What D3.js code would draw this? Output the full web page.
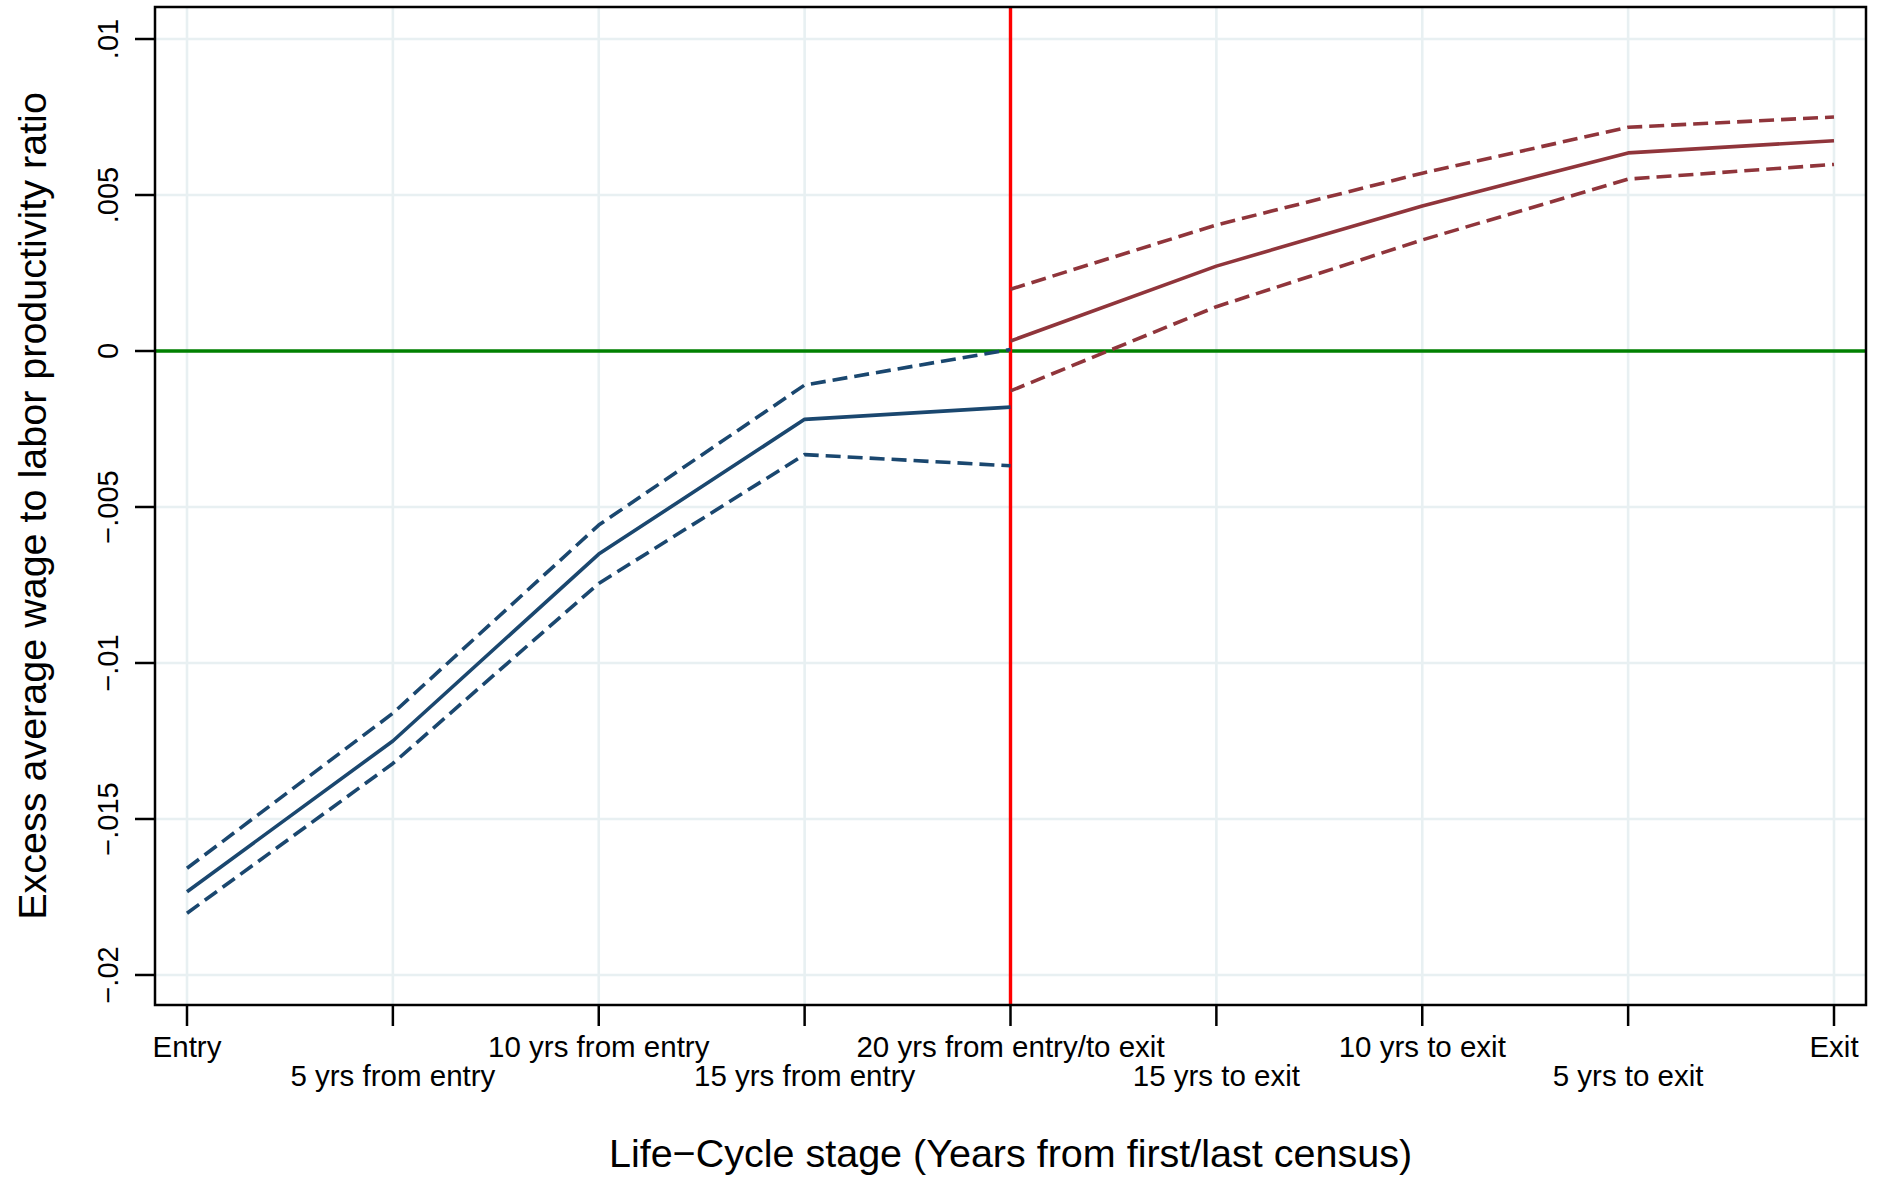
<!DOCTYPE html>
<html>
<head>
<meta charset="utf-8">
<script src="https://cdn.jsdelivr.net/npm/d3@7"></script>
<style>
    body { margin: 0; background: #fff; }
    svg { display: block; font-family: "Liberation Sans", Arial, Helvetica, sans-serif; }
</style>
</head>
<body>
<svg id="chart"></svg>
<script>
// life-cycle stages on the x axis
const stages = ["Entry", "5 yrs from entry", "10 yrs from entry", "15 yrs from entry",
    "20 yrs from entry/to exit", "15 yrs to exit", "10 yrs to exit", "5 yrs to exit", "Exit"];

// years since entry (stages 0-4)
const entryEst   = [-0.01733, -0.0125, -0.00651, -0.00219, -0.0018];
const entryUpper = [-0.01658, -0.01161, -0.00558, -0.00109, 0.00005];
const entryLower = [-0.01802, -0.01322, -0.00745, -0.00332, -0.00368];

// years to exit (stages 4-8)
const exitEst   = [0.00032, 0.00272, 0.00465, 0.00635, 0.00674];
const exitUpper = [0.00198, 0.00404, 0.0057, 0.00717, 0.0075];
const exitLower = [-0.00128, 0.00142, 0.00356, 0.00551, 0.00598];

const yTicks = [0.01, 0.005, 0, -0.005, -0.01, -0.015, -0.02];
const yTickLabels = [".01", ".005", "0", "\u2212.005", "\u2212.01", "\u2212.015", "\u2212.02"];

const width = 1881, height = 1177;
const frame = { left: 155, right: 1866, top: 7, bottom: 1005 };

const svg = d3.select("#chart").attr("width", width).attr("height", height);

const x = d3.scaleLinear().domain([0, 8]).range([187, 1834]);
const y = d3.scaleLinear().domain([-0.020962, 0.011026]).range([frame.bottom, frame.top]);

const navy = "#1a476f", maroon = "#90353b";

// grid
const grid = svg.append("g").attr("stroke", "#e8f0f2").attr("stroke-width", 2.6);
grid.selectAll(".hgrid").data(yTicks).enter().append("line")
    .attr("x1", frame.left).attr("x2", frame.right)
    .attr("y1", d => y(d)).attr("y2", d => y(d));
grid.selectAll(".vgrid").data(d3.range(stages.length)).enter().append("line")
    .attr("x1", d => x(d)).attr("x2", d => x(d))
    .attr("y1", frame.top).attr("y2", frame.bottom);

// reference lines
svg.append("line")
    .attr("x1", frame.left).attr("x2", frame.right)
    .attr("y1", y(0)).attr("y2", y(0))
    .attr("stroke", "#008000").attr("stroke-width", 3.6);
svg.append("line")
    .attr("x1", x(4)).attr("x2", x(4))
    .attr("y1", frame.top).attr("y2", frame.bottom)
    .attr("stroke", "#ff0000").attr("stroke-width", 3.4);

// series
function drawLine(values, offset, color, dashed) {
    const line = d3.line().x((d, i) => x(i + offset)).y(d => y(d));
    svg.append("path")
        .datum(values)
        .attr("d", line)
        .attr("fill", "none")
        .attr("stroke", color)
        .attr("stroke-width", 3.6)
        .attr("stroke-linejoin", "round")
        .attr("stroke-dasharray", dashed ? "15,7" : null);
}
drawLine(entryUpper, 0, navy, true);
drawLine(entryLower, 0, navy, true);
drawLine(entryEst, 0, navy, false);
drawLine(exitUpper, 4, maroon, true);
drawLine(exitLower, 4, maroon, true);
drawLine(exitEst, 4, maroon, false);

// frame
svg.append("rect")
    .attr("x", frame.left).attr("y", frame.top)
    .attr("width", frame.right - frame.left).attr("height", frame.bottom - frame.top)
    .attr("fill", "none").attr("stroke", "#000").attr("stroke-width", 2.5);

// x axis ticks and alternating labels
const xt = svg.append("g");
xt.selectAll("line").data(d3.range(stages.length)).enter().append("line")
    .attr("x1", d => x(d)).attr("x2", d => x(d))
    .attr("y1", frame.bottom).attr("y2", frame.bottom + 21)
    .attr("stroke", "#000").attr("stroke-width", 2.5);
xt.selectAll("text").data(stages).enter().append("text")
    .attr("x", (d, i) => x(i))
    .attr("y", (d, i) => i % 2 === 0 ? 1057 : 1086)
    .attr("text-anchor", "middle")
    .attr("font-size", 29.5)
    .text(d => d);

// y axis ticks and rotated labels
const yt = svg.append("g");
yt.selectAll("line").data(yTicks).enter().append("line")
    .attr("x1", frame.left - 20).attr("x2", frame.left)
    .attr("y1", d => y(d)).attr("y2", d => y(d))
    .attr("stroke", "#000").attr("stroke-width", 2.5);
yt.selectAll("text").data(yTicks).enter().append("text")
    .attr("transform", d => `translate(118, ${y(d)}) rotate(-90)`)
    .attr("text-anchor", "middle")
    .attr("font-size", 29)
    .text((d, i) => yTickLabels[i]);

// axis titles
svg.append("text")
    .attr("x", (frame.left + frame.right) / 2)
    .attr("y", 1167)
    .attr("text-anchor", "middle")
    .attr("font-size", 39.5)
    .text("Life\u2212Cycle stage (Years from first/last census)");

svg.append("text")
    .attr("transform", `translate(46, ${(frame.top + frame.bottom) / 2}) rotate(-90)`)
    .attr("text-anchor", "middle")
    .attr("font-size", 39.5)
    .text("Excess average wage to labor productivity ratio");
</script>
</body>
</html>
